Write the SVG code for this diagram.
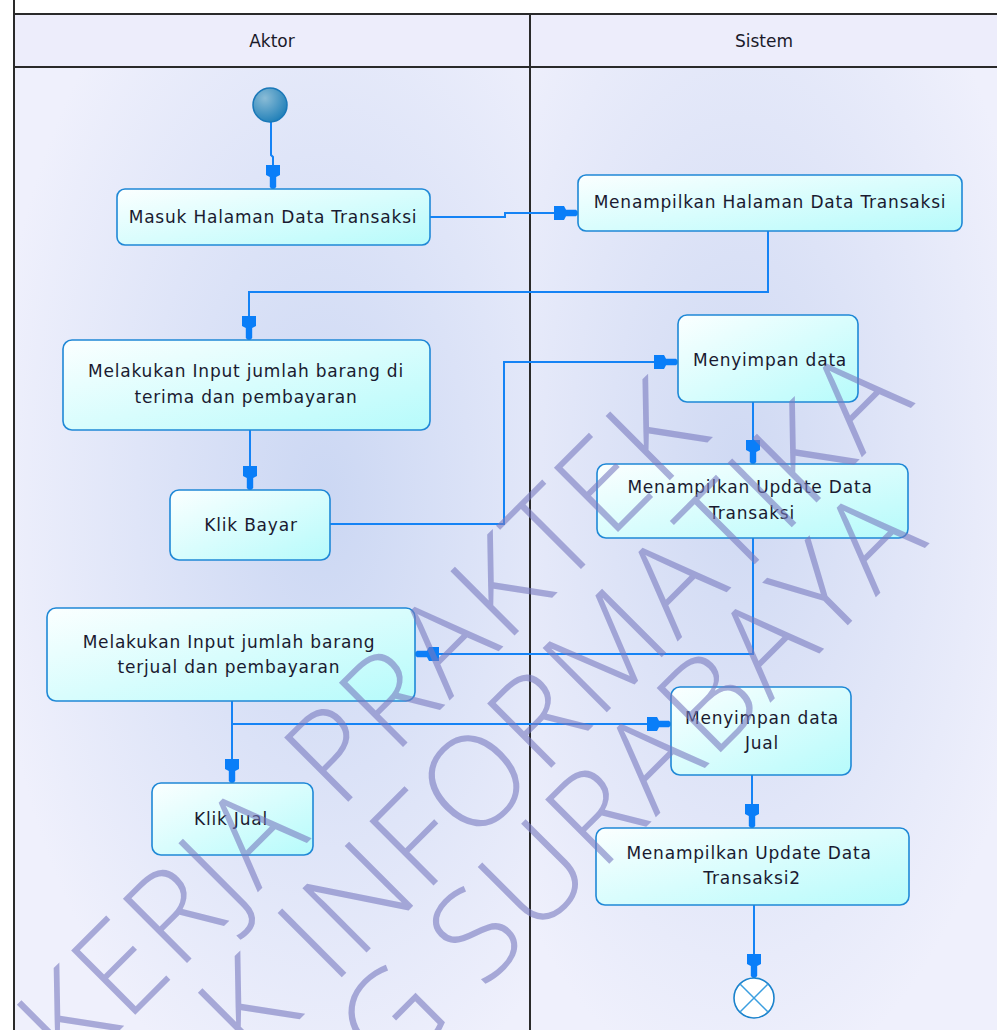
<svg xmlns="http://www.w3.org/2000/svg" width="997" height="1030" viewBox="0 0 997 1030">
  <style>
    .lane-line { stroke: #2a2a2a; stroke-width: 2; fill: none; }
    .hdr { font-family: "DejaVu Sans", "Liberation Sans", sans-serif; font-size: 17px; fill: #1a1a2a; text-anchor: middle; }
    .act rect { fill: url(#actFill); stroke: #1f88d6; stroke-width: 1.6; }
    .act text { font-family: "DejaVu Sans", "Liberation Sans", sans-serif; font-size: 17px; letter-spacing: 0.8px; fill: #1a1a30; text-anchor: middle; }
    .flow { fill: none; stroke: #1583f5; stroke-width: 2; }
    .wm { font-family: "Open Sans", "DejaVu Sans", sans-serif; font-size: 127px; font-weight: 300; letter-spacing: 3px; fill: #787ac0; fill-opacity: 0.6; }
  </style>
  <defs>
    <linearGradient id="actFill" x1="0" y1="0" x2="1" y2="1">
      <stop offset="0" stop-color="#fbffff"/>
      <stop offset="1" stop-color="#b6fbfb"/>
    </linearGradient>
    <radialGradient id="laneA" cx="0.6" cy="0.45" r="0.65">
      <stop offset="0" stop-color="#cbd7f3"/>
      <stop offset="1" stop-color="#eff0fc"/>
    </radialGradient>
    <radialGradient id="laneS" cx="0.45" cy="0.42" r="0.65">
      <stop offset="0" stop-color="#cfd9f3"/>
      <stop offset="1" stop-color="#eff0fc"/>
    </radialGradient>
    <radialGradient id="startFill" cx="0.35" cy="0.3" r="0.75">
      <stop offset="0" stop-color="#8abcd6"/>
      <stop offset="1" stop-color="#1f7fb8"/>
    </radialGradient>
    <marker id="arrow" viewBox="-26 -8 28 16" refX="0" refY="0" markerWidth="28" markerHeight="16" markerUnits="userSpaceOnUse" orient="auto" overflow="visible">
      <path d="M0,-1.2 L-2,-3.2 L-12,-3.2 L-14,-7 L-24,-7 L-24,7 L-14,7 L-12,3.2 L-2,3.2 L0,1.2 Z" fill="#0a7ef8"/>
    </marker>
  </defs>

  <!-- swimlane frame -->
  <g id="lanes">
    <rect x="0" y="0" width="997" height="1030" fill="#ffffff"/>
    <rect x="14" y="14" width="983" height="53" fill="#ededfb"/>
    <rect x="14" y="67" width="516" height="963" fill="url(#laneA)"/>
    <rect x="530" y="67" width="467" height="963" fill="url(#laneS)"/>
    <line class="lane-line" x1="14" y1="14" x2="997" y2="14"/>
    <line class="lane-line" x1="14" y1="67" x2="997" y2="67"/>
    <line class="lane-line" x1="14" y1="0" x2="14" y2="1030"/>
    <line class="lane-line" x1="530" y1="14" x2="530" y2="1030"/>
    <text class="hdr" x="272" y="47">Aktor</text>
    <text class="hdr" x="764" y="47">Sistem</text>
  </g>

  <!-- control flows -->
  <g id="connectors">
    <path class="flow" d="M271,122 V155 L273,157 V189" marker-end="url(#arrow)"/>
    <path class="flow" d="M430,217 H505 V213 H578" marker-end="url(#arrow)"/>
    <path class="flow" d="M768,231 V292 H249 V340" marker-end="url(#arrow)"/>
    <path class="flow" d="M250,430 V490" marker-end="url(#arrow)"/>
    <path class="flow" d="M330,524 H504 V362 H678" marker-end="url(#arrow)"/>
    <path class="flow" d="M753,402 V464" marker-end="url(#arrow)"/>
    <path class="flow" d="M753,538 V654 H415" marker-end="url(#arrow)"/>
    <path class="flow" d="M232,701 V783" marker-end="url(#arrow)"/>
    <path class="flow" d="M232,724 H671" marker-end="url(#arrow)"/>
    <path class="flow" d="M752,775 V828" marker-end="url(#arrow)"/>
    <path class="flow" d="M754,905 V978" marker-end="url(#arrow)"/>
  </g>

  <!-- nodes -->
  <g id="start">
    <circle cx="270" cy="105" r="17" fill="url(#startFill)" stroke="#1a78b8" stroke-width="1.5"/>
  </g>
  <g id="masuk-halaman" class="act">
    <rect x="117" y="189" width="313" height="56" rx="8"/>
    <text x="273" y="223">Masuk Halaman Data Transaksi</text>
  </g>
  <g id="tampil-halaman" class="act">
    <rect x="578" y="175" width="384" height="56" rx="8"/>
    <text x="770" y="208">Menampilkan Halaman Data Transaksi</text>
  </g>
  <g id="input-terima" class="act">
    <rect x="63" y="340" width="367" height="90" rx="9"/>
    <text x="246" y="377">Melakukan Input jumlah barang di</text>
    <text x="246" y="403">terima dan pembayaran</text>
  </g>
  <g id="klik-bayar" class="act">
    <rect x="170" y="490" width="160" height="70" rx="9"/>
    <text x="251" y="531">Klik Bayar</text>
  </g>
  <g id="simpan-data" class="act">
    <rect x="678" y="315" width="180" height="87" rx="9"/>
    <text x="770" y="366">Menyimpan data</text>
  </g>
  <g id="update-transaksi" class="act">
    <rect x="597" y="464" width="311" height="74" rx="9"/>
    <text x="750" y="493">Menampilkan Update Data</text>
    <text x="752" y="519">Transaksi</text>
  </g>
  <g id="input-terjual" class="act">
    <rect x="47" y="608" width="368" height="93" rx="9"/>
    <text x="229" y="648">Melakukan Input jumlah barang</text>
    <text x="229" y="673">terjual dan pembayaran</text>
  </g>
  <g id="klik-jual" class="act">
    <rect x="152" y="783" width="161" height="72" rx="9"/>
    <text x="231" y="825">Klik Jual</text>
  </g>
  <g id="simpan-jual" class="act">
    <rect x="671" y="687" width="180" height="88" rx="9"/>
    <text x="762" y="724">Menyimpan data</text>
    <text x="762" y="749">Jual</text>
  </g>
  <g id="update-transaksi2" class="act">
    <rect x="596" y="828" width="313" height="77" rx="9"/>
    <text x="749" y="859">Menampilkan Update Data</text>
    <text x="752" y="884">Transaksi2</text>
  </g>
  <g id="end">
    <circle cx="754" cy="998" r="20" fill="#ffffff" stroke="#1a82cc" stroke-width="1.6"/>
    <path d="M740,984 L768,1012 M768,984 L740,1012" stroke="#3c9fe0" stroke-width="1.5"/>
  </g>

  <!-- diagonal watermark -->
  <g id="watermark" class="wm">
    <text transform="translate(72,1078) rotate(-45)">KERJA PRAKTEK</text>
    <text transform="translate(253,1066) rotate(-45)">K INFORMATIKA</text>
    <text transform="translate(390,1083) rotate(-45)">G SURABAYA</text>
  </g>
</svg>
